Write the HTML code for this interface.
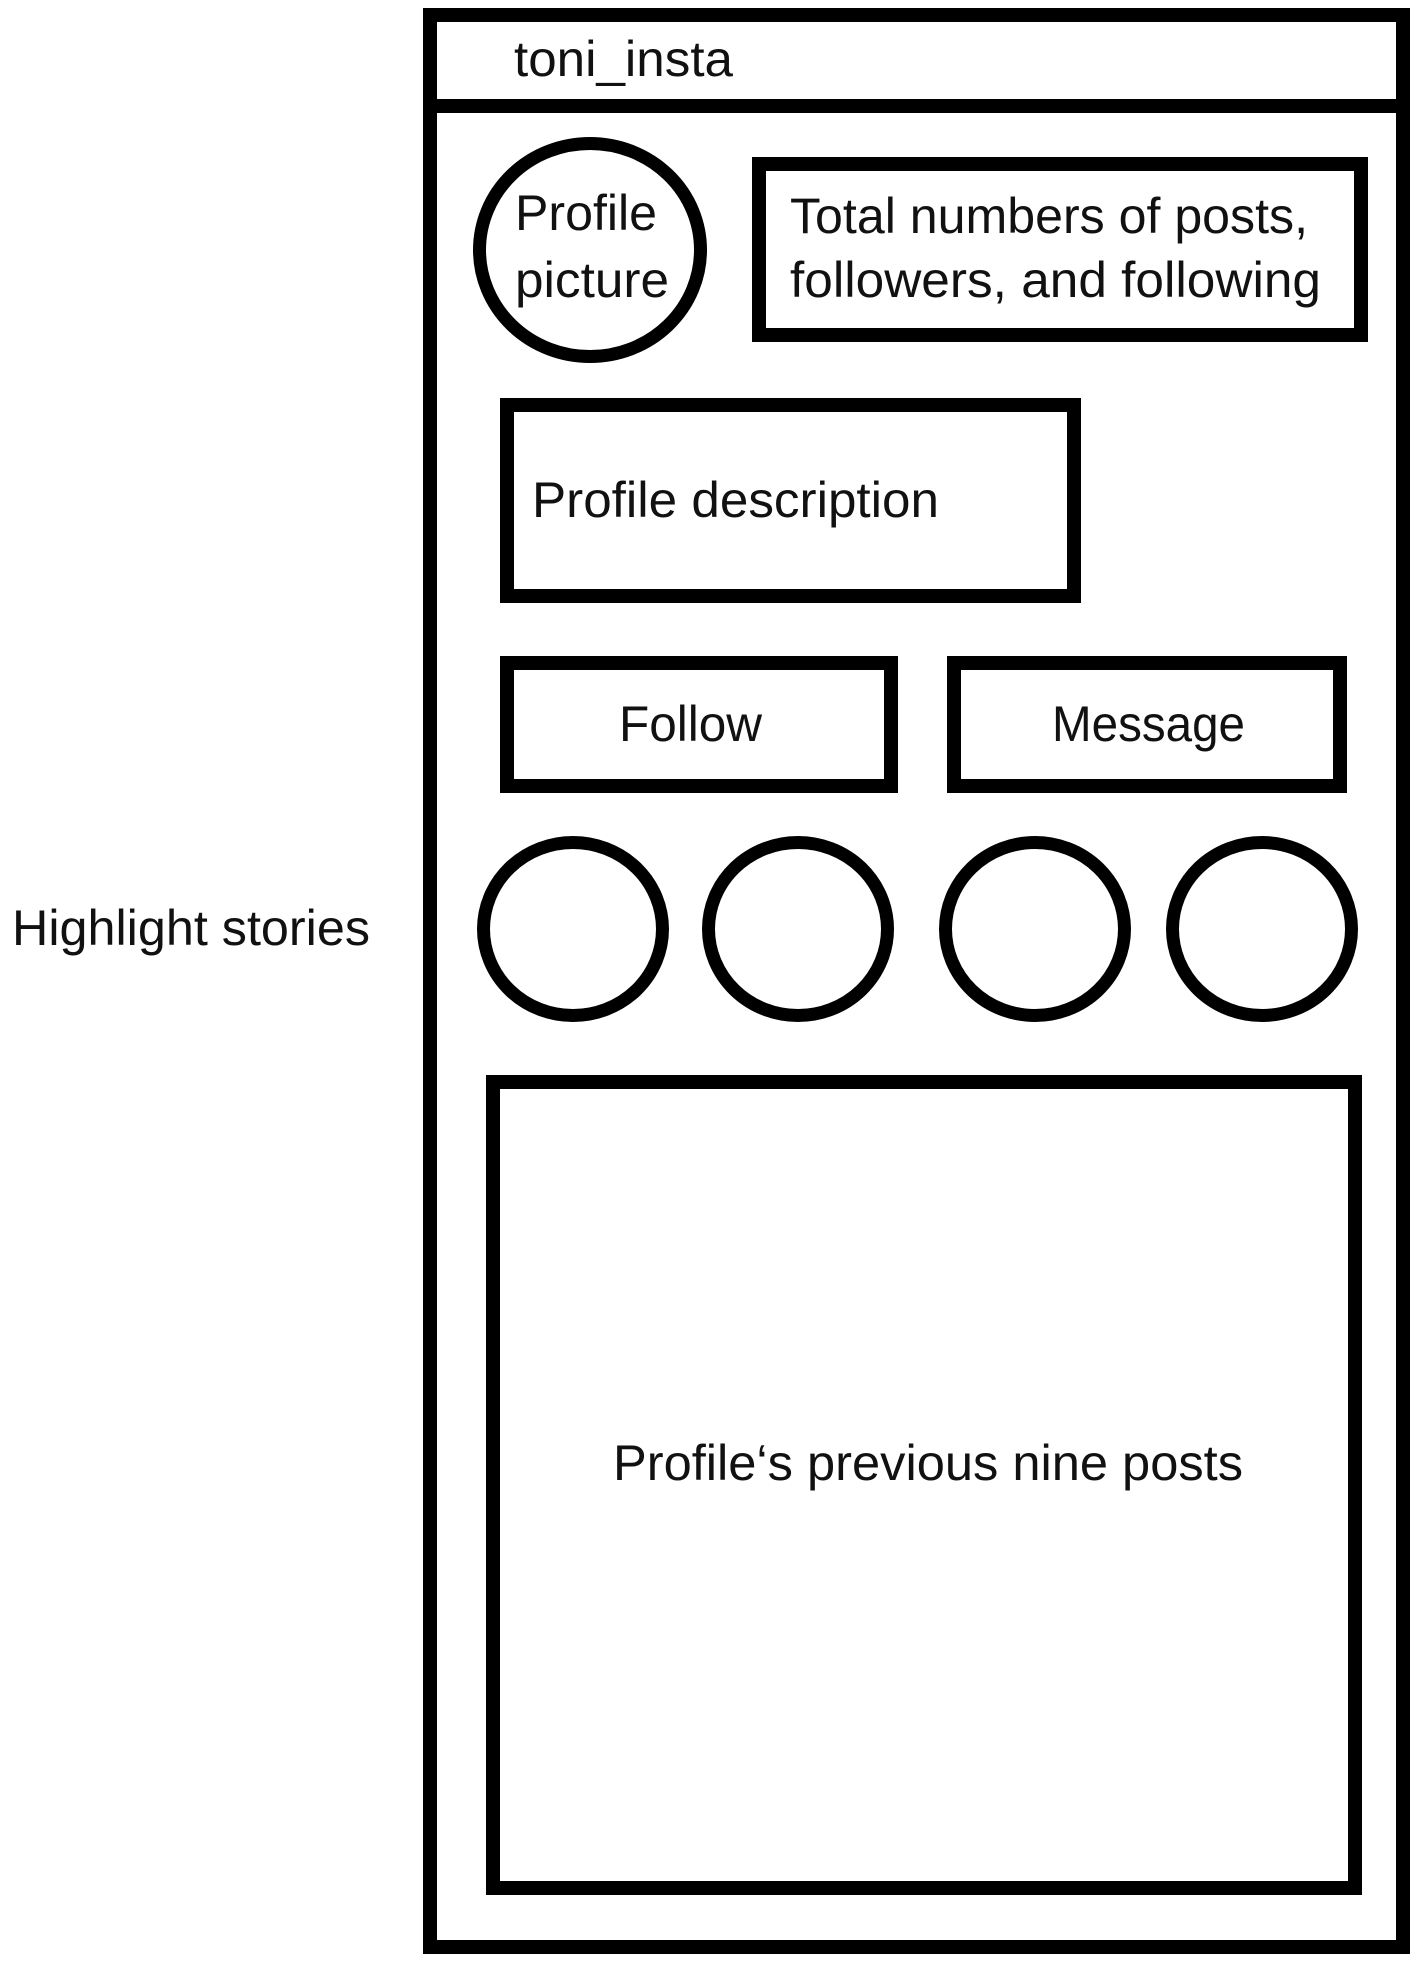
<!DOCTYPE html>
<html><head><meta charset="utf-8"><style>
html,body{margin:0;padding:0;background:#fff;}
svg{display:block;}
text{font-family:"Liberation Sans",sans-serif;font-size:50px;fill:#111;}
</style></head><body>
<svg width="1417" height="1963" viewBox="0 0 1417 1963" xmlns="http://www.w3.org/2000/svg">
<g fill="none" stroke="#000" stroke-width="14">
<rect x="430" y="15" width="973" height="1932"/>
<line x1="430" y1="106" x2="1403" y2="106"/>
<rect x="759" y="164" width="602" height="171"/>
<rect x="507" y="405" width="567" height="191"/>
<rect x="507" y="663" width="384" height="123"/>
<rect x="954" y="663" width="386" height="123"/>
<rect x="493" y="1082" width="862" height="806"/>
</g>
<g fill="none" stroke="#000" stroke-width="13">
<ellipse cx="590" cy="250" rx="110.5" ry="106.5"/>
<ellipse cx="573" cy="929" rx="89.5" ry="86.5"/>
<ellipse cx="798" cy="929" rx="89.5" ry="86.5"/>
<ellipse cx="1035" cy="929" rx="89.5" ry="86.5"/>
<ellipse cx="1262" cy="929" rx="89.5" ry="86.5"/>
</g>
<text x="514" y="76" textLength="219" lengthAdjust="spacingAndGlyphs">toni_insta</text>
<text x="515" y="230" textLength="142" lengthAdjust="spacingAndGlyphs">Profile</text>
<text x="515" y="297" textLength="154" lengthAdjust="spacingAndGlyphs">picture</text>
<text x="790" y="233" textLength="518" lengthAdjust="spacingAndGlyphs">Total numbers of posts,</text>
<text x="790" y="297" textLength="531" lengthAdjust="spacingAndGlyphs">followers, and following</text>
<text x="532" y="517" textLength="407" lengthAdjust="spacingAndGlyphs">Profile description</text>
<text x="619" y="741" textLength="143" lengthAdjust="spacingAndGlyphs">Follow</text>
<text x="1052" y="741" textLength="193" lengthAdjust="spacingAndGlyphs">Message</text>
<text x="12" y="945" textLength="358" lengthAdjust="spacingAndGlyphs">Highlight stories</text>
<text x="613" y="1480" textLength="630" lengthAdjust="spacingAndGlyphs">Profile‘s previous nine posts</text>
</svg>
</body></html>
